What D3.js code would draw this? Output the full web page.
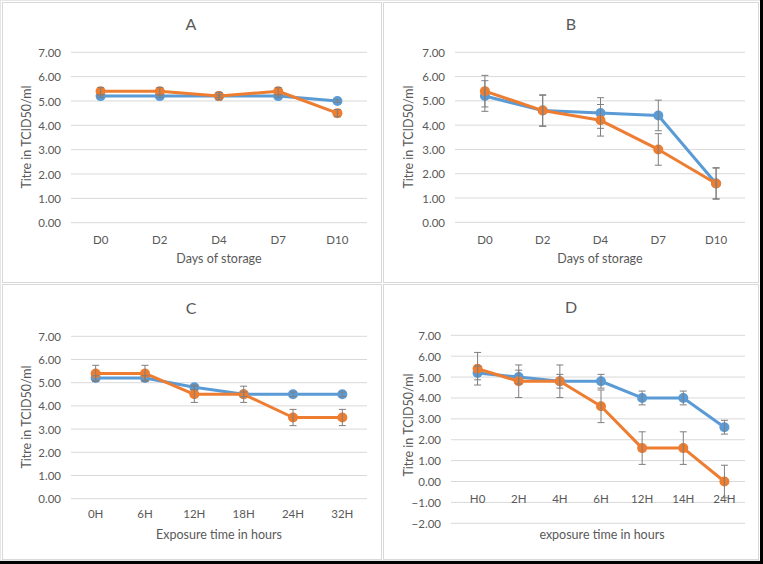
<!DOCTYPE html>
<html>
<head>
<meta charset="utf-8">
<script src="https://cdn.jsdelivr.net/npm/d3@7"></script>
<style>
html,body{margin:0;padding:0;background:#fff;}
svg{display:block;font-family:Lato,"Open Sans",sans-serif;}
</style>
</head>
<body>
<svg id="chart" width="763" height="564"></svg>
<script>
// ---- data ----
const titles = ["A", "B", "C", "D"];
const xTitles = ["Days of storage", "Days of storage", "Exposure time in hours", "exposure time in hours"];
const yTitle = "Titre in TCID50/ml";

const catsA = ["D0", "D2", "D4", "D7", "D10"];
const blueA = [5.2, 5.2, 5.2, 5.2, 5.0];
const blueErrA = [0.05, 0.05, 0.05, 0.05, 0.05];
const orangeA = [5.4, 5.4, 5.2, 5.4, 4.5];
const orangeErrA = [0.15, 0.15, 0.15, 0.15, 0.15];

const catsB = ["D0", "D2", "D4", "D7", "D10"];
const blueB = [5.2, 4.6, 4.5, 4.4, 1.6];
const blueErrB = [0.63, 0.63, 0.63, 0.63, 0.63];
const orangeB = [5.4, 4.6, 4.2, 3.0, 1.6];
const orangeErrB = [0.65, 0.65, 0.65, 0.65, 0.65];

const catsC = ["0H", "6H", "12H", "18H", "24H", "32H"];
const blueC = [5.2, 5.2, 4.8, 4.5, 4.5, 4.5];
const blueErrC = [0.1, 0.1, 0.1, 0.1, 0.1, 0.1];
const orangeC = [5.4, 5.4, 4.5, 4.5, 3.5, 3.5];
const orangeErrC = [0.35, 0.35, 0.35, 0.35, 0.35, 0.35];

const catsD = ["H0", "2H", "4H", "6H", "12H", "14H", "24H"];
const blueD = [5.2, 5.0, 4.8, 4.8, 4.0, 4.0, 2.6];
const blueErrD = [0.33, 0.33, 0.33, 0.33, 0.33, 0.33, 0.33];
const orangeD = [5.4, 4.8, 4.8, 3.6, 1.6, 1.6, 0.0];
const orangeErrD = [0.78, 0.78, 0.78, 0.78, 0.78, 0.78, 0.78];

const ticksABC = [0, 1, 2, 3, 4, 5, 6, 7];
const ticksD = [-2, -1, 0, 1, 2, 3, 4, 5, 6, 7];

// ---- layout ----
const BLUE = "#5b9bd5", ORANGE = "#ed7d31", TXT = "#595959", GRID = "#d9d9d9", ERR = "#7f7f7f";
const svg = d3.select("#chart");

// frames
svg.append("rect").attr("x", 0.5).attr("y", 0.5).attr("width", 760).attr("height", 560)
  .attr("fill", "#fff").attr("stroke", "#e6e6e6");
const frames = [[2.5, 2.5, 379, 280], [383.5, 2.5, 375, 280], [2.5, 284.5, 379, 275], [383.5, 284.5, 375, 275]];
frames.forEach(f => svg.append("rect").attr("x", f[0]).attr("y", f[1]).attr("width", f[2]).attr("height", f[3])
  .attr("fill", "#fff").attr("stroke", GRID));
svg.append("rect").attr("x", 760).attr("y", 0).attr("width", 3).attr("height", 564).attr("fill", "#000");
svg.append("rect").attr("x", 0).attr("y", 561).attr("width", 763).attr("height", 3).attr("fill", "#000");

const panels = [
  {cats: catsA, blue: blueA, be: blueErrA, orange: orangeA, oe: orangeErrA, ticks: ticksABC,
   x0: 71, x1: 367, g0: 71, yTop: 52.3, yBot: 222.7, labelY: 244, titleX: 191, titleY: 30,
   xtX: 219, xtY: 263, ytX: 27, ytY: 137},
  {cats: catsB, blue: blueB, be: blueErrB, orange: orangeB, oe: orangeErrB, ticks: ticksABC,
   x0: 456, x1: 745, g0: 455, yTop: 52.3, yBot: 222.3, labelY: 244, titleX: 571, titleY: 30,
   xtX: 600, xtY: 263, ytX: 409, ytY: 137},
  {cats: catsC, blue: blueC, be: blueErrC, orange: orangeC, oe: orangeErrC, ticks: ticksABC,
   x0: 71, x1: 367, g0: 71, yTop: 336.3, yBot: 498.7, labelY: 518, titleX: 191, titleY: 314,
   xtX: 219, xtY: 539, ytX: 27, ytY: 417},
  {cats: catsD, blue: blueD, be: blueErrD, orange: orangeD, oe: orangeErrD, ticks: ticksD,
   x0: 457, x1: 745, g0: 451, yTop: 335.3, yBot: 523.3, labelY: 503, titleX: 571, titleY: 313,
   xtX: 602, xtY: 539, ytX: 409, ytY: 425}
];

panels.forEach((p, i) => {
  const g = svg.append("g");
  const lo = d3.min(p.ticks), hi = d3.max(p.ticks);
  const y = d3.scaleLinear().domain([lo, hi]).range([p.yBot, p.yTop]);
  const x = d3.scaleBand().domain(p.cats).range([p.x0, p.x1]);
  const cx = c => x(c) + x.bandwidth() / 2;

  // gridlines + y tick labels
  const yAxis = d3.axisLeft(y).tickValues(p.ticks).tickFormat(d3.format(".2f")).tickSize(0).tickPadding(0);
  const ya = g.append("g").attr("transform", `translate(${p.g0 - 10},0)`).call(yAxis);
  ya.select(".domain").remove();
  ya.selectAll("text").attr("fill", TXT).attr("font-size", 11.5).attr("font-family", "Lato,sans-serif")
    .attr("x", 0).attr("dy", "0.35em");
  g.append("g").selectAll("line").data(p.ticks).join("line")
    .attr("x1", p.g0).attr("x2", p.x1).attr("y1", d => y(d)).attr("y2", d => y(d))
    .attr("stroke", GRID).attr("stroke-width", 1);

  // x labels
  const xAxis = d3.axisBottom(x).tickSize(0).tickPadding(0);
  const xa = g.append("g").attr("transform", `translate(0,${p.labelY})`).call(xAxis);
  xa.select(".domain").remove();
  xa.selectAll("text").attr("fill", TXT).attr("font-size", 11.5).attr("font-family", "Lato,sans-serif")
    .attr("dy", "0").attr("y", 0);

  // titles
  g.append("text").attr("x", p.titleX).attr("y", p.titleY).attr("text-anchor", "middle")
    .attr("fill", TXT).attr("font-size", 16).text(titles[i]);
  g.append("text").attr("x", p.xtX).attr("y", p.xtY).attr("text-anchor", "middle")
    .attr("fill", TXT).attr("font-size", 12.5).text(xTitles[i]);
  g.append("text").attr("transform", `translate(${p.ytX + 4},${p.ytY}) rotate(-90)`).attr("text-anchor", "middle")
    .attr("fill", TXT).attr("font-size", 12.5).text(yTitle);

  // series
  const series = [{v: p.blue, e: p.be, c: BLUE}, {v: p.orange, e: p.oe, c: ORANGE}];
  const line = d3.line().x((d, j) => cx(p.cats[j])).y(d => y(d));
  series.forEach(s => {
    g.append("path").datum(s.v).attr("d", line).attr("fill", "none")
      .attr("stroke", s.c).attr("stroke-width", 3).attr("stroke-linejoin", "round");
    g.append("g").selectAll("circle").data(s.v).join("circle")
      .attr("cx", (d, j) => cx(p.cats[j])).attr("cy", d => y(d)).attr("r", 5).attr("fill", s.c);
  });
  series.forEach(s => {
    const eb = g.append("g").attr("stroke", ERR).attr("stroke-width", 1);
    s.v.forEach((d, j) => {
      const xx = cx(p.cats[j]);
      const t = y(d + s.e[j]), b = y(d - s.e[j]);
      eb.append("line").attr("x1", xx).attr("x2", xx).attr("y1", t).attr("y2", b);
      eb.append("line").attr("x1", xx - 3.5).attr("x2", xx + 3.5).attr("y1", t).attr("y2", t);
      eb.append("line").attr("x1", xx - 3.5).attr("x2", xx + 3.5).attr("y1", b).attr("y2", b);
    });
  });
});
</script>
</body>
</html>
